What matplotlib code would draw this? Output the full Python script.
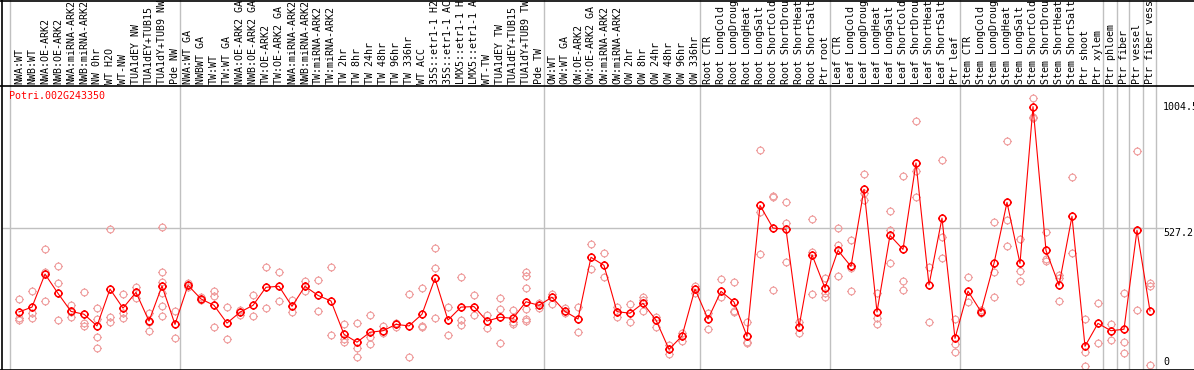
import matplotlib
matplotlib.use("Agg")
import matplotlib.pyplot as plt
import matplotlib.transforms as mtransforms
from matplotlib.lines import Line2D
from matplotlib.path import Path

# sample names, cut to 14 characters like in the original header
labels = ["NWA:WT", "NWB:WT", "NWA:OE-ARK2", "NWB:OE-ARK2", "NWA:miRNA-ARK2", "NWB:miRNA-ARK2",
          "NW 0hr", "WT H2O", "WT-NW", "TUA1dEY NW", "TUA1dEY+TUB15", "TUA1dY+TUB9 NW", "Pde NW",
          "NWA:WT GA", "NWBWT GA", "TW:WT", "TW:WT GA", "NWA:OE-ARK2 GA", "NWB:OE-ARK2 GA",
          "TW:OE-ARK2", "TW:OE-ARK2 GA", "NWA:miRNA-ARK2", "NWB:miRNA-ARK2", "TW:miRNA-ARK2",
          "TW:miRNA-ARK2", "TW 2hr", "TW 8hr", "TW 24hr", "TW 48hr", "TW 96hr", "TW 336hr", "WT ACC",
          "35S::etr1-1 H2", "35S::etr1-1 AC", "LMX5::etr1-1 H", "LMX5::etr1-1 A", "WT-TW",
          "TUA1dEY TW", "TUA1dEY+TUB15", "TUA1dY+TUB9 TW", "Pde TW",
          "OW:WT", "OW:WT GA", "OW:OE-ARK2", "OW:OE-ARK2 GA", "OW:miRNA-ARK2", "OW:miRNA-ARK2",
          "OW 2hr", "OW 8hr", "OW 24hr", "OW 48hr", "OW 96hr", "OW 336hr",
          "Root CTR", "Root LongCold", "Root LongDroug", "Root LongHeat", "Root LongSalt",
          "Root ShortCold", "Root ShortDrou", "Root ShortHeat", "Root ShortSalt", "Ptr root",
          "Leaf CTR", "Leaf LongCold", "Leaf LongDroug", "Leaf LongHeat", "Leaf LongSalt",
          "Leaf ShortCold", "Leaf ShortDrou", "Leaf ShortHeat", "Leaf ShortSalt", "Ptr leaf",
          "Stem CTR", "Stem LongCold", "Stem LongDroug", "Stem LongHeat", "Stem LongSalt",
          "Stem ShortCold", "Stem ShortDrou", "Stem ShortHeat", "Stem ShortSalt",
          "Ptr shoot", "Ptr xylem", "Ptr phloem", "Ptr fiber", "Ptr vessel", "Ptr fiber vess"]

# mean expression per sample
means = [197, 216, 346, 270, 199, 188, 142, 287, 212, 274, 161, 299, 148,
         302, 248, 223, 153, 196, 223, 294, 298, 219, 298, 262, 240, 109, 78, 117, 123,
         148, 142, 188, 329, 165, 216, 218, 161, 176, 172, 237, 223,
         255, 199, 169, 412, 380, 198, 192, 231, 165, 50, 102, 287,
         169, 278, 236, 101, 616, 527, 522, 138, 422, 291,
         439, 376, 679, 197, 498, 443, 783, 303, 566, 93,
         279, 198, 388, 628, 388, 1004.5, 439, 302, 573, 62, 152,
         123, 129, 518, 201]

# individual replicates
reps = [[248, 173, 165], [279, 194, 172], [443, 355, 239], [378, 311, 164],
        [223, 198, 176], [274, 152, 142], [212, 169, 97, 54], [522, 176, 156],
        [266, 194, 172], [295, 274, 251], [194, 159, 122], [530, 354, 315, 270, 220, 182],
        [199, 94], [312, 296], [244, 256], [280, 260, 137], [215, 89], [185, 205],
        [262, 180], [373, 211], [353, 239], [244, 196], [319, 280], [323, 201],
        [373, 106], [148, 89, 80], [152, 56, 18], [184, 100, 70], [142, 113],
        [152, 139], [266, 18], [290, 142, 137], [447, 369, 172], [215, 106],
        [333, 165, 146], [262, 184], [185, 135], [251, 207, 74], [205, 156, 149],
        [354, 338, 290, 207, 168, 162], [233, 214],
        [268, 227], [211, 192], [218, 117], [464, 365], [428, 333], [215, 178],
        [228, 156], [255, 244, 201], [178, 137], [67, 31], [113, 84], [299, 273],
        [194, 130], [327, 255], [314, 199, 196], [156, 80, 74], [833, 589, 424],
        [653, 648, 283], [628, 546, 393], [159, 113], [563, 432, 268], [329, 270, 257],
        [527, 460, 338], [479, 369, 279], [740, 664, 637], [270, 172, 149],
        [593, 519, 388], [731, 319, 283], [947, 751, 650], [375, 156],
        [795, 493, 408], [169, 71, 38], [333, 235], [205, 193], [550, 353, 255],
        [869, 559, 455], [484, 359, 317], [1037, 965, 959], [510, 405, 399],
        [341, 329, 240], [727, 428], [169, 41, -15], [231, 74], [148, 87],
        [270, 78, 34], [830, 205], [310, 300, -13]]

group_edges = [-0.7, 12.4, 40.4, 52.4, 62.4, 72.4, 83.4, 84.45, 85.4, 86.45, 87.45]
ytick_vals = [1004.5, 527.2, 0]
ytick_text = ["1004.5", "527.2", "0"]
gene = "Potri.002G243350"

W, H = 1194, 370
fig = plt.figure(figsize=(W / 100, H / 100), dpi=100)
ax = fig.add_axes([2 / W, 1 / H, 1158 / W, 284 / H])
ax.set_xlim(-1.3077, 87.77)
ax.set_ylim(-27.5, 1089.7)
ax.axis("off")

mono = "DejaVu Sans Mono"
fs = 7.2
grey = "#c0c0c0"

# circle with four little ticks, like the original glyph
ring = Path.unit_circle()
ticks = Path([[0, 1], [0, 1.3], [0, -1], [0, -1.3], [1, 0], [1.3, 0], [-1, 0], [-1.3, 0]],
             [Path.MOVETO, Path.LINETO] * 4)
mk = Path.make_compound_path(ring, ticks)

# grid lines
for e in group_edges:
    ax.axvline(e, ymin=0, ymax=369 / 284, color=grey, lw=1, clip_on=False, zorder=0)
ax.axhline(527.2, xmin=0, xmax=1161 / 1158, color=grey, lw=1, clip_on=False, zorder=0)

# replicates
for i, r in enumerate(reps):
    ax.plot([i] * len(r), r, ls="none", marker=mk, ms=6.3, mew=0.8,
            mec="#ef9c9c", mfc="none", zorder=2)

x = list(range(len(means)))
ax.plot(x, means, color="red", lw=0.8, zorder=3)
ax.plot(x, means, ls="none", marker=mk, ms=6.3, mew=1.1, mec="red", mfc="none", zorder=4)

# sample labels above the plot
trans = mtransforms.blended_transform_factory(ax.transData, ax.transAxes)
for i, lab in enumerate(labels):
    ax.text(i, 285 / 284, lab, transform=trans, rotation=90, ha="center", va="bottom",
            fontsize=fs, family=mono, color="black", clip_on=False)

# value labels on the right
for v, t in zip(ytick_vals, ytick_text):
    ax.text(88.0, v, t, ha="left", va="top" if t == "527.2" else "center",
            fontsize=fs, family=mono, color="black", clip_on=False)

fig.text(9 / W, 1 - 96 / H, gene, color="red", fontsize=fs, family=mono, va="center", ha="left")

# frame lines
for yy in [369.5, 85.5, 0.5]:
    fig.add_artist(Line2D([0, 1], [1 - yy / H, 1 - yy / H], transform=fig.transFigure,
                          color="black", lw=1.2))
fig.add_artist(Line2D([1.5 / W, 1.5 / W], [0, 1], transform=fig.transFigure, color="black", lw=1.2))

fig.savefig("out.png", dpi=100)
